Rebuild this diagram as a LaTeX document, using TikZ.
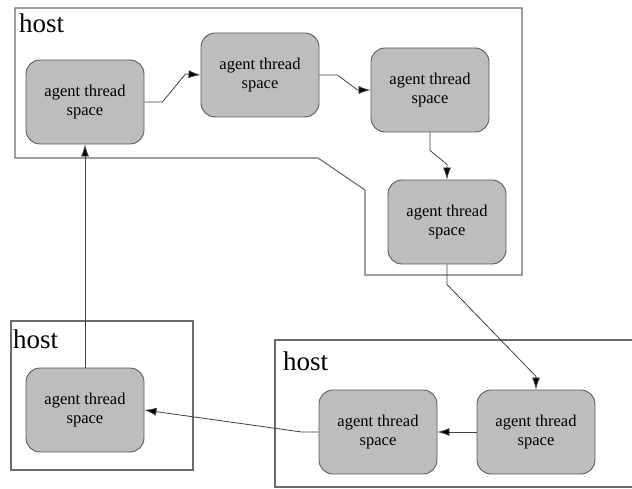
\documentclass[tikz,border=0pt]{standalone}
\usepackage{fontspec}
\setmainfont{Liberation Serif}
\usetikzlibrary{arrows.meta,positioning}
\definecolor{spacegray}{HTML}{BDBDBD}
\definecolor{linegray}{HTML}{5A5A5A}

\tikzset{
  agent/.style={rectangle, rounded corners=14pt, draw=linegray, line width=0.9pt,
    fill=spacegray, minimum width=118pt, minimum height=84pt, align=center,
    font=\fontsize{16.5}{18.5}\selectfont, inner sep=2pt},
  hostbox/.style={draw=linegray!90, line width=1.1pt},
  hostlabel/.style={anchor=base west, inner sep=0pt, font=\fontsize{27}{30}\selectfont},
  flow/.style={draw=black!75, line width=0.8pt, -{Latex[length=12pt,width=8pt,fill=black]}}
}

\begin{document}
\begin{tikzpicture}[x=1pt,y=-1pt]
      \useasboundingbox (0,0) rectangle (632,489);
      \clip (0,0) rectangle (632,489);

      % Host outlines
      \draw[hostbox] (15,8) -- (522,8) -- (522,275) -- (365,275) -- (365,190)
        -- (318,158) -- (15,158) -- cycle;
      \draw[hostbox] (11,321) rectangle (193,470);
      \draw[hostbox] (640,340) -- (275,340) -- (275,487) -- (640,487);

      \node[hostlabel] (h1) at (19,33) {host};
      \node[hostlabel] (h2) at (13,348) {host};
      \node[hostlabel] (h3) at (283,370) {host};

      % Agent thread spaces
      \node[agent] (a1) at (85,102) {agent thread\\space};
      \node[agent] (a2) at (260,75) {agent thread\\space};
      \node[agent] (a3) at (430,90) {agent thread\\space};
      \node[agent] (a4) at (447,222) {agent thread\\space};
      \node[agent] (b1) at (536,432) {agent thread\\space};
      \node[agent] (b2) at (378,432) {agent thread\\space};
      \node[agent] (c1) at (85,410) {agent thread\\space};

      % Migration path
      \draw[flow] (a1.east) -- ++(18,0) -- ++(23,-28) -- (a2.west);
      \draw[flow] (a2.east) -- ++(18,0) -- ++(20,15) -- (a3.west);
      \draw[flow] (a3.south) -- ++(0,18) -- ++(17,14) -- (a4.north);
      \draw[flow] (a4.south) -- ++(0,20) -- ++(89,92) -- (b1.north);
      \draw[flow] (b1.west) -- (b2.east);
      \draw[flow] (b2.west) -- ++(-17,0) -- (c1.east);
      \draw[flow] (c1.north) -- (a1.south);
    \end{tikzpicture}
\end{document}
